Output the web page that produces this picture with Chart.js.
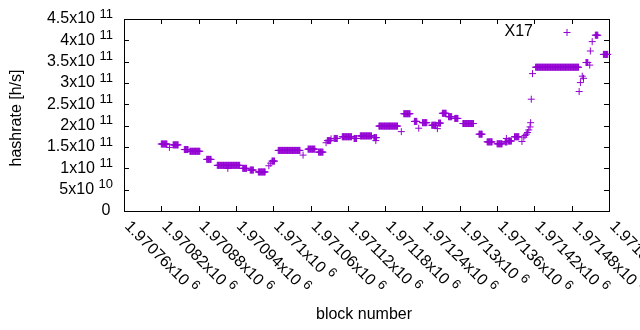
<!DOCTYPE html>
<html>
<head>
<meta charset="utf-8">
<script src="https://cdn.jsdelivr.net/npm/chart.js@4/dist/chart.umd.min.js"></script>
<style>
  body { margin: 0; background: #fff; }
  canvas { display: block; }
</style>
</head>
<body>
<canvas id="hashChart" width="640" height="330"></canvas>
<script>
// runs of blocks with the same estimated hashrate (block from, block to, h/s)
const runStart = [1970820, 1970833, 1970839, 1970857, 1970866, 1970893, 1970910, 1970927, 1970951, 1970963,
    1970976, 1970993, 1970996, 1970998, 1971008, 1971048, 1971056, 1971073, 1971085, 1971087,
    1971093, 1971098, 1971111, 1971130, 1971140, 1971162, 1971165, 1971170, 1971206, 1971210,
    1971227, 1971234, 1971240, 1971255, 1971264, 1971266, 1971272, 1971282, 1971292, 1971305,
    1971331, 1971344, 1971360, 1971373, 1971375, 1971378, 1971388, 1971400, 1971403, 1971405,
    1971407, 1971409, 1971411, 1971413, 1971414, 1971415, 1971417, 1971422, 1971492, 1971494,
    1971497, 1971499, 1971503, 1971509, 1971510, 1971513, 1971518, 1971531];
const runEnd = [1970829, 1970833, 1970847, 1970863, 1970882, 1970900, 1970946, 1970927, 1970957, 1970968,
    1970987, 1970993, 1970996, 1971002, 1971043, 1971048, 1971067, 1971080, 1971085, 1971092,
    1971093, 1971103, 1971126, 1971134, 1971158, 1971166, 1971165, 1971200, 1971206, 1971220,
    1971231, 1971234, 1971247, 1971262, 1971264, 1971269, 1971278, 1971287, 1971297, 1971322,
    1971336, 1971352, 1971368, 1971376, 1971375, 1971383, 1971395, 1971400, 1971403, 1971405,
    1971407, 1971409, 1971411, 1971413, 1971414, 1971415, 1971417, 1971491, 1971492, 1971494,
    1971497, 1971499, 1971506, 1971509, 1971510, 1971513, 1971522, 1971538];
const runValue = [1.57e11, 1.49e11, 1.55e11, 1.44e11, 1.40e11, 1.21e11, 1.07e11, 1.00e11, 1.00e11, 0.96e11,
    0.915e11, 1.06e11, 1.12e11, 1.17e11, 1.42e11, 1.31e11, 1.45e11, 1.38e11, 1.60e11, 1.65e11,
    1.69e11, 1.70e11, 1.74e11, 1.70e11, 1.76e11, 1.72e11, 1.65e11, 1.99e11, 1.86e11, 2.28e11,
    2.10e11, 1.94e11, 2.07e11, 2.01e11, 1.93e11, 2.06e11, 2.29e11, 2.21e11, 2.17e11, 2.05e11,
    1.80e11, 1.62e11, 1.575e11, 1.62e11, 1.70e11, 1.64e11, 1.74e11, 1.63e11, 1.73e11, 1.77e11,
    1.80e11, 1.84e11, 1.90e11, 1.97e11, 2.07e11, 2.62e11, 3.22e11, 3.37e11, 2.80e11, 3.01e11,
    3.16e11, 3.11e11, 3.48e11, 3.42e11, 3.75e11, 3.97e11, 4.12e11, 3.67e11];

const xTicks = [1970760, 1970820, 1970880, 1970940, 1971000, 1971060, 1971120,
    1971180, 1971240, 1971300, 1971360, 1971420, 1971480, 1971540];
const yTicks = [0, 0.5e11, 1e11, 1.5e11, 2e11, 2.5e11, 3e11, 3.5e11, 4e11, 4.5e11];

const seriesName = "X17";
const purple = "#9400D3";
const FONT = '"Liberation Sans", Arial, sans-serif';

const points = [];
runStart.forEach((s, i) => {
    for (let b = s; b <= runEnd[i]; b++) points.push({ x: b, y: runValue[i] });
});

// "1.97076x10^6" style, exponent as superscript
function splitExp(v) {
    if (v === 0) return ["0", ""];
    const e = Math.floor(Math.log10(v) + 1e-9);
    const m = parseFloat((v / Math.pow(10, e)).toFixed(6));
    return [m + "x10", String(e)];
}

function drawSup(ctx, base, exp, x, y, align) {
    ctx.font = "16px " + FONT;
    const wb = ctx.measureText(base).width;
    ctx.font = "13px " + FONT;
    const we = exp ? ctx.measureText(exp).width : 0;
    const gap = exp ? 4.5 : 0;
    const x0 = align === "right" ? x - (wb + gap + we) : x;
    ctx.textAlign = "left";
    ctx.textBaseline = "middle";
    ctx.font = "16px " + FONT;
    ctx.fillText(base, x0, y);
    if (exp) {
        ctx.font = "13px " + FONT;
        ctx.fillText(exp, x0 + wb + gap, y - 5);
    }
}

const gnuplotFrame = {
    id: "gnuplotFrame",
    beforeDatasetsDraw(chart) {
        const { ctx, chartArea: a, scales: { x, y } } = chart;
        ctx.save();
        ctx.strokeStyle = "#000";
        ctx.lineWidth = 1;
        ctx.strokeRect(a.left + 0.5, a.top + 0.5, a.right - a.left, a.bottom - a.top);
        ctx.beginPath();
        xTicks.forEach(v => {
            const px = Math.round(x.getPixelForValue(v)) + 0.5;
            ctx.moveTo(px, a.bottom); ctx.lineTo(px, a.bottom - 5);
            ctx.moveTo(px, a.top); ctx.lineTo(px, a.top + 5);
        });
        yTicks.forEach(v => {
            const py = Math.round(y.getPixelForValue(v)) + 0.5;
            ctx.moveTo(a.left, py); ctx.lineTo(a.left + 5, py);
            ctx.moveTo(a.right, py); ctx.lineTo(a.right - 5, py);
        });
        ctx.stroke();
        ctx.restore();
    },
    afterDraw(chart) {
        const { ctx, chartArea: a, scales: { x, y } } = chart;
        ctx.save();
        ctx.fillStyle = "#000";
        yTicks.forEach(v => {
            const [b, e] = splitExp(v);
            drawSup(ctx, b, e, e ? 113 : 110.5, y.getPixelForValue(v), "right");
        });
        xTicks.forEach(v => {
            const [b, e] = splitExp(v);
            ctx.save();
            ctx.translate(x.getPixelForValue(v) + 3, a.bottom + 13);
            ctx.rotate(Math.PI / 4);
            drawSup(ctx, b, e, 0, 0, "left");
            ctx.restore();
        });
        // axis titles
        ctx.font = "16px " + FONT;
        ctx.textAlign = "center";
        ctx.textBaseline = "middle";
        ctx.fillText("block number", 364, 315);
        ctx.save();
        ctx.translate(17, 118);
        ctx.rotate(-Math.PI / 2);
        ctx.fillText("hashrate [h/s]", 0, 0);
        ctx.restore();
        // key
        ctx.textAlign = "right";
        ctx.fillText(seriesName, 533, 32);
        ctx.strokeStyle = purple;
        ctx.lineWidth = 1;
        ctx.beginPath();
        ctx.moveTo(563.5, 32.5); ctx.lineTo(570.5, 32.5);
        ctx.moveTo(567, 29); ctx.lineTo(567, 36);
        ctx.stroke();
        ctx.restore();
    }
};

new Chart(document.getElementById("hashChart"), {
    type: "scatter",
    data: {
        datasets: [{
            label: seriesName,
            data: points,
            pointStyle: "cross",
            pointRadius: 3.5,
            pointBorderWidth: 1,
            borderColor: purple,
            backgroundColor: purple,
            clip: false
        }]
    },
    options: {
        responsive: false,
        animation: false,
        events: [],
        layout: { padding: { left: 124, top: 19, right: 31, bottom: 119 } },
        plugins: { legend: { display: false }, tooltip: { enabled: false } },
        scales: {
            x: { type: "linear", display: false, min: 1970760, max: 1971540 },
            y: { type: "linear", display: false, min: 0, max: 4.5e11 }
        }
    },
    plugins: [gnuplotFrame]
});
</script>
</body>
</html>
